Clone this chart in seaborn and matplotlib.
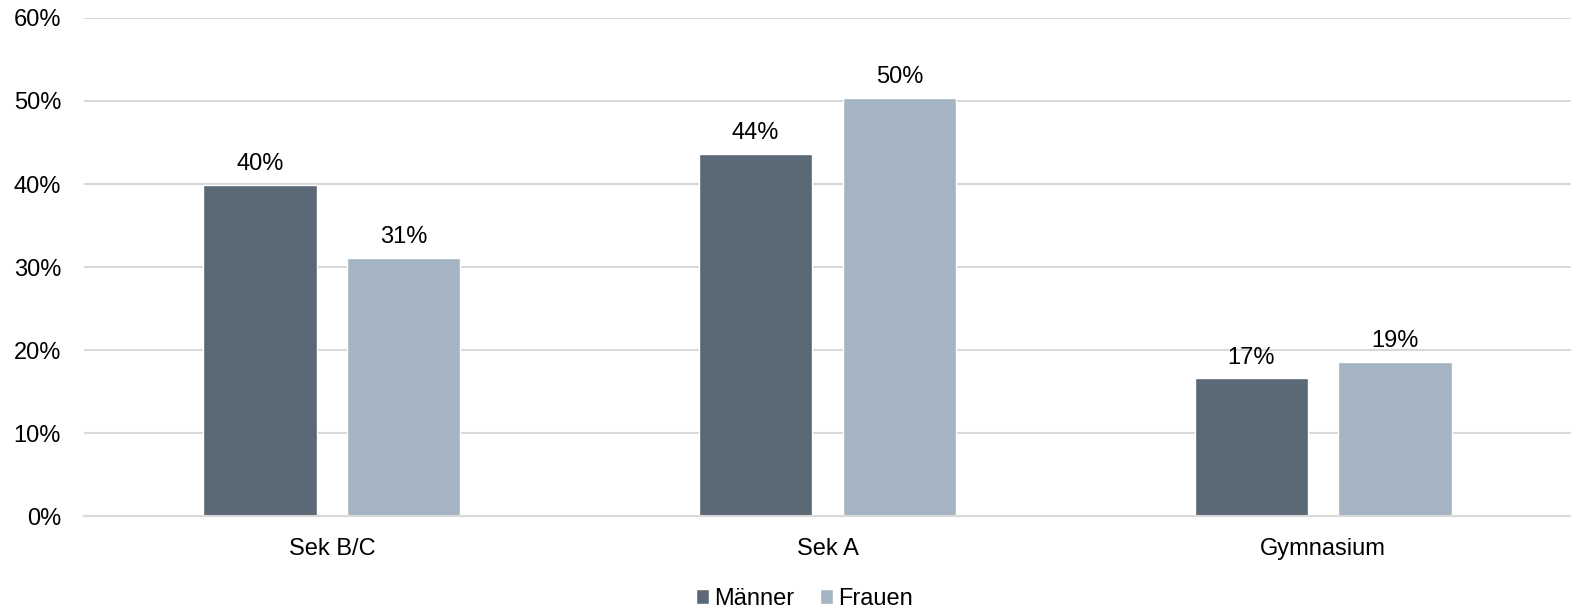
import matplotlib
matplotlib.use("Agg")
import matplotlib.pyplot as plt
import seaborn as sns
import pandas as pd
from matplotlib.patches import Patch

categories = ["Sek B/C", "Sek A", "Gymnasium"]
maenner = [39.9, 43.6, 16.6]
frauen = [31.1, 50.4, 18.6]
series_names = ["Männer", "Frauen"]
colors = ["#5B6876", "#A4B4C3"]

df = pd.DataFrame({
    "Kategorie": categories * 2,
    "Wert": maenner + frauen,
    "Geschlecht": [series_names[0]] * 3 + [series_names[1]] * 3,
})

sns.set_theme(style="white")
plt.rcParams["font.family"] = ["Liberation Sans", "DejaVu Sans"]

FS = 17
fig = plt.figure(figsize=(15.71, 6.08), dpi=100)
ax = fig.add_axes([84 / 1571, 0.1513, 1 - 84 / 1571, 0.8191])

sns.barplot(data=df, x="Kategorie", y="Wert", hue="Geschlecht",
            order=categories, hue_order=series_names,
            palette=colors, width=0.58, gap=0.21, ax=ax,
            legend=False, saturation=1, errorbar=None)

ax.set_ylim(0, 60)
ax.set_xlim(-0.5, 2.5)
ax.set_yticks(range(0, 61, 10))
ax.set_yticklabels([f"{v}%" for v in range(0, 61, 10)], fontsize=FS, color="#000000")
ax.tick_params(axis="y", length=0, pad=16.5)
ax.tick_params(axis="x", length=0, pad=16, labelsize=FS, labelcolor="#000000")
ax.set_xlabel("")
ax.set_ylabel("")
ax.yaxis.grid(True, color="#D9D9D9", linewidth=1.5)
ax.set_axisbelow(True)
for s in ["top", "right", "left"]:
    ax.spines[s].set_visible(False)
ax.spines["bottom"].set_color("#D9D9D9")
ax.spines["bottom"].set_linewidth(1.5)

for cont in ax.containers:
    ax.bar_label(cont, labels=[f"{v:.0f}%" for v in cont.datavalues],
                 padding=7, fontsize=FS, color="#000000")

handles = [Patch(facecolor=c, label=n) for c, n in zip(colors, series_names)]
leg = fig.legend(handles=handles, loc="center", bbox_to_anchor=(0.512, 0.015),
                 ncol=2, frameon=False, fontsize=FS, handlelength=0.55,
                 handleheight=0.55, handletextpad=0.2, columnspacing=1.1)
for t in leg.get_texts():
    t.set_color("#000000")

fig.savefig("out.png", dpi=100)
